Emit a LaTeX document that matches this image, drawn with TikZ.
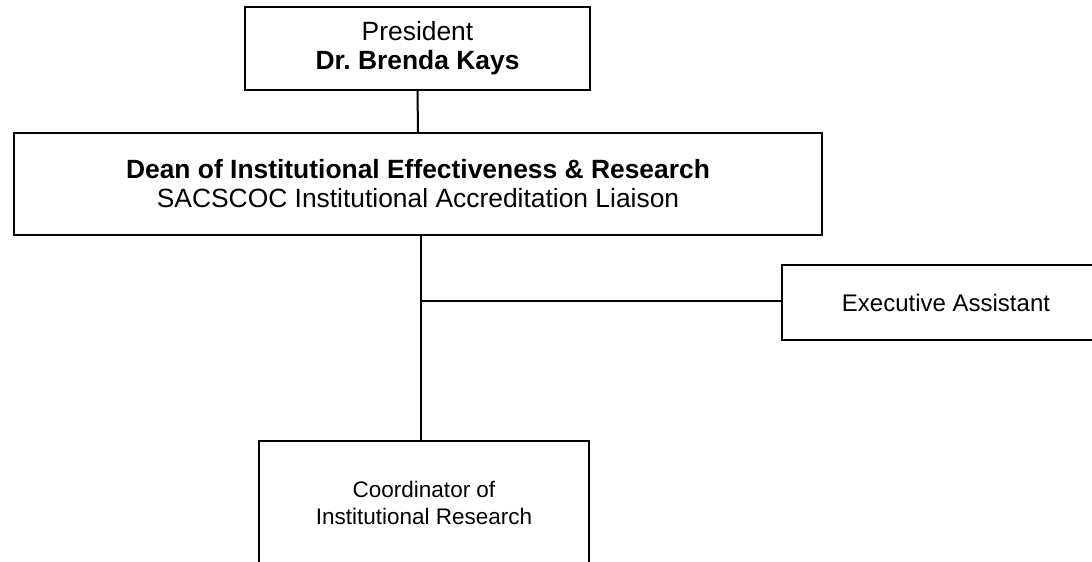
\documentclass[tikz,border=0pt]{standalone}
\usepackage{fontspec}
\setmainfont{Liberation Sans}
\frenchspacing
\tikzset{
  box/.style={draw=black, line width=2pt, fill=white, rectangle, align=center, inner sep=0pt},
  bigtext/.style={font=\fontsize{26.4}{29}\selectfont},
  midtext/.style={font=\fontsize{24}{27}\selectfont},
  smalltext/.style={font=\fontsize{22.5}{27}\selectfont},
  conn/.style={draw=black, line width=2pt},
  thinconn/.style={draw=black, line width=1.2pt}
}
\begin{document}
\begin{tikzpicture}[x=1pt,y=-1pt]
\useasboundingbox (0,0) rectangle (1092,562);
\clip (0,0) rectangle (1092,562);
\node[box, bigtext, minimum width=345pt, minimum height=83pt] (pres) at (417.5,48.5)
  {President\\\textbf{Dr.\ Brenda Kays}};
\node[box, bigtext, minimum width=808pt, minimum height=102pt] (dean) at (418,184)
  {\textbf{Dean of Institutional Effectiveness \& Research}\\SACSCOC Institutional Accreditation Liaison};
\node[box, midtext, minimum width=328pt, minimum height=75pt] (exec) at (946,302.5)
  {Executive Assistant};
\node[box, smalltext, minimum width=330pt, minimum height=124pt] (coord) at (424,503)
  {Coordinator of\\Institutional Research};
\coordinate (j) at (421,301);
\draw[conn] (pres.south) -- (dean.north);
\draw[conn] (j |- dean.south) -- (j |- coord.north);
\draw[thinconn] (j) -- (j -| exec.west);
\end{tikzpicture}
\end{document}
